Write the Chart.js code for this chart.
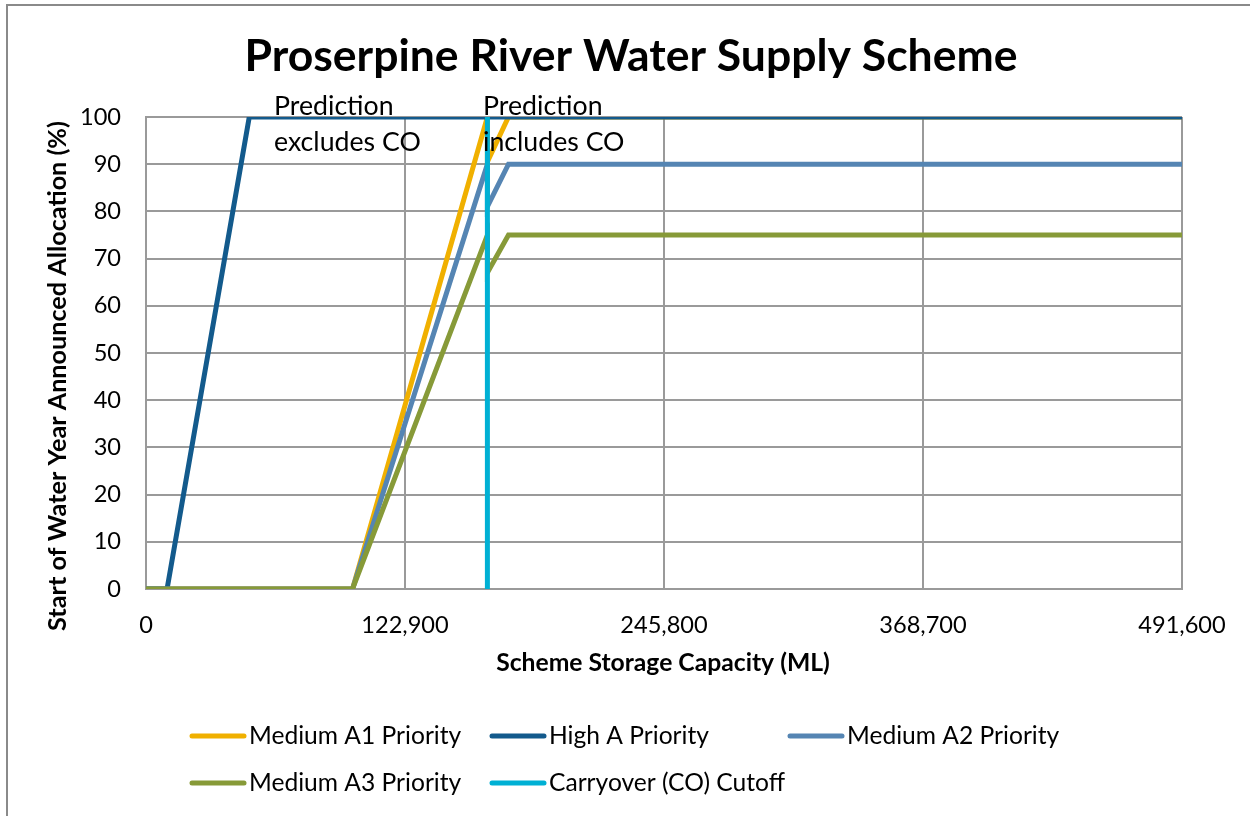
<!DOCTYPE html>
<html>
<head>
<meta charset="utf-8">
<script src="https://cdn.jsdelivr.net/npm/chart.js@4.4.1/dist/chart.umd.min.js"></script>
<style>
  html, body { margin: 0; padding: 0; background: #fff; }
  #wrap { width: 1250px; height: 816px; position: relative; }
</style>
</head>
<body>
<div id="wrap"><canvas id="schemeChart" width="1250" height="816"></canvas></div>
<script>
// Proserpine River Water Supply Scheme - announced allocation vs storage
const xTicks = [0, 122900, 245800, 368700, 491600];
const yTicks = [0, 10, 20, 30, 40, 50, 60, 70, 80, 90, 100];

const coCutoff = 162000;

const highA_x = [0, 10000, 49000, 491600];
const highA_y = [0, 0, 100, 100];

const medA1_x = [0, 98000, coCutoff, coCutoff, 172000, 491600];
const medA1_y = [0, 0, 100, 90.5, 100, 100];

const medA2_x = [0, 98000, coCutoff, coCutoff, 172000, 491600];
const medA2_y = [0, 0, 90, 81, 90, 90];

const medA3_x = [0, 98000, coCutoff, coCutoff, 172000, 491600];
const medA3_y = [0, 0, 75, 67, 75, 75];

const cutoff_x = [coCutoff, coCutoff];
const cutoff_y = [0, 100];

const FONT = 'Lato, "Open Sans", sans-serif';
const gridColor = '#9a9a9a';

function pts(xs, ys) {
    return xs.map((x, i) => ({ x: x, y: ys[i] }));
}

function series(label, xs, ys, color, order) {
    return {
        label: label,
        data: pts(xs, ys),
        borderColor: color,
        backgroundColor: color,
        borderWidth: 5,
        pointRadius: 0,
        tension: 0,
        fill: false,
        order: order
    };
}

// titles, annotations, frame and legend drawn on the canvas
const decorations = {
    id: 'decorations',
    beforeDraw(chart) {
        const c = chart.ctx;
        c.save();
        c.strokeStyle = '#8a8a8a';
        c.lineWidth = 2;
        c.strokeRect(7, 5, 1400, 1000);
        c.restore();
    },
    afterDraw(chart) {
        const c = chart.ctx;
        c.save();
        c.fillStyle = '#000';
        c.textBaseline = 'middle';

        c.textAlign = 'center';
        c.font = 'bold 44.5px ' + FONT;
        c.fillText('Proserpine River Water Supply Scheme', 631, 57);

        c.font = 'bold 24.7px ' + FONT;
        c.fillText('Scheme Storage Capacity (ML)', 663, 663);

        c.save();
        c.translate(58, 376);
        c.rotate(-Math.PI / 2);
        c.font = 'bold 25.2px ' + FONT;
        c.fillText('Start of Water Year Announced Allocation (%)', 0, 0);
        c.restore();

        c.textAlign = 'left';
        c.font = '26.7px ' + FONT;
        c.fillText('Prediction', 274, 106);
        c.fillText('excludes CO', 274, 142);
        c.fillText('Prediction', 483, 106);
        c.fillText('includes CO', 483, 142);

        // legend, Excel-style grid
        const slots = [[190, 736], [490, 736], [788, 736], [190, 783], [490, 783]];
        c.font = '24.6px ' + FONT;
        c.lineCap = 'round';
        chart.data.datasets.forEach((ds, i) => {
            const [lx, ly] = slots[i];
            c.strokeStyle = ds.borderColor;
            c.lineWidth = 5;
            c.beginPath();
            c.moveTo(lx + 2, ly);
            c.lineTo(lx + 54, ly);
            c.stroke();
            c.fillText(ds.label, lx + 59, ly);
        });
        c.restore();
    }
};

new Chart(document.getElementById('schemeChart'), {
    type: 'line',
    data: {
        datasets: [
            series('Medium A1 Priority', medA1_x, medA1_y, '#f0b000', 5),
            series('High A Priority', highA_x, highA_y, '#135a8c', 4),
            series('Medium A2 Priority', medA2_x, medA2_y, '#5585b3', 3),
            series('Medium A3 Priority', medA3_x, medA3_y, '#879a38', 2),
            series('Carryover (CO) Cutoff', cutoff_x, cutoff_y, '#00b0d4', 1)
        ]
    },
    options: {
        responsive: false,
        animation: false,
        layout: {
            padding: { left: 0, top: 117, right: 68, bottom: 167 }
        },
        plugins: {
            legend: { display: false },
            title: { display: false },
            tooltip: { enabled: false }
        },
        scales: {
            x: {
                type: 'linear',
                min: xTicks[0],
                max: xTicks[xTicks.length - 1],
                afterFit: function (scale) { scale.height = 60; },
                afterBuildTicks: function (scale) {
                    scale.ticks = xTicks.map(v => ({ value: v }));
                },
                ticks: {
                    padding: 22,
                    color: '#000',
                    maxRotation: 0,
                    font: { family: FONT, size: 23.6 },
                    callback: function (value) {
                        return value.toLocaleString('en-US');
                    }
                },
                grid: { color: gridColor, lineWidth: 2, drawTicks: false },
                border: { color: gridColor, width: 2 }
            },
            y: {
                min: yTicks[0],
                max: yTicks[yTicks.length - 1],
                afterFit: function (scale) { scale.width = 146; },
                afterBuildTicks: function (scale) {
                    scale.ticks = yTicks.map(v => ({ value: v }));
                },
                ticks: {
                    padding: 25,
                    color: '#000',
                    font: { family: FONT, size: 23.6 }
                },
                grid: { color: gridColor, lineWidth: 2, drawTicks: false },
                border: { color: gridColor, width: 2 }
            }
        }
    },
    plugins: [decorations]
});
</script>
</body>
</html>
